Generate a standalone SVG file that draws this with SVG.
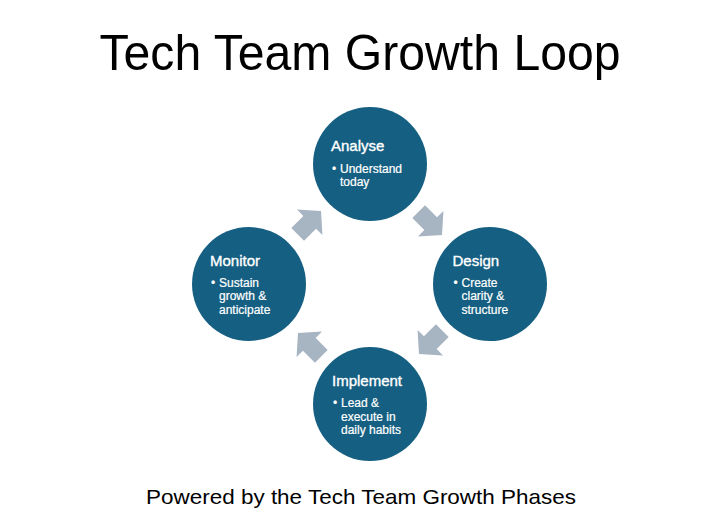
<svg xmlns="http://www.w3.org/2000/svg" width="720" height="528" viewBox="0 0 720 528">
  <defs>
    <style>
      .circle { fill: #155F82; }
      .arrow { fill: #A7B4C2; }
      .title { font-family: "Liberation Sans", Arial, sans-serif; font-size: 50px; fill: #000000; }
      .subtitle { font-family: "Liberation Sans", Arial, sans-serif; font-size: 21px; fill: #000000; }
      .nodeTitle { font-family: "Liberation Sans", Arial, sans-serif; font-size: 15px; fill: #FFFFFF; stroke: #FFFFFF; stroke-width: 0.35px; }
      .nodeText { font-family: "Liberation Sans", Arial, sans-serif; font-size: 12px; fill: #FFFFFF; stroke: #FFFFFF; stroke-width: 0.2px; }
    </style>
    <path id="arrowShape" d="M-16,-9 L1,-9 L1,-18 L17,0 L1,18 L1,9 L-16,9 Z"/>
  </defs>
  <rect width="720" height="528" fill="#FFFFFF"/>
  <text class="title" x="360" y="70" text-anchor="middle" textLength="521" lengthAdjust="spacingAndGlyphs">Tech Team Growth Loop</text>

  <g id="connectors">
    <use href="#arrowShape" class="arrow" transform="translate(430,223) rotate(45)"/>
    <use href="#arrowShape" class="arrow" transform="translate(431,342) rotate(135)"/>
    <use href="#arrowShape" class="arrow" transform="translate(310,345) rotate(225)"/>
    <use href="#arrowShape" class="arrow" transform="translate(309,223) rotate(-45)"/>
  </g>

  <g id="node-analyse">
    <circle class="circle" cx="370" cy="164" r="57"/>
    <text class="nodeTitle" x="331" y="151">Analyse</text>
    <text class="nodeText" x="332" y="172.5">•</text>
    <text class="nodeText" x="340" y="172.5">Understand</text>
    <text class="nodeText" x="340" y="185.5">today</text>
  </g>

  <g id="node-design">
    <circle class="circle" cx="490" cy="284" r="57"/>
    <text class="nodeTitle" x="452.5" y="266">Design</text>
    <text class="nodeText" x="453.5" y="286.5">•</text>
    <text class="nodeText" x="461.5" y="286.5">Create</text>
    <text class="nodeText" x="461.5" y="300">clarity &amp;</text>
    <text class="nodeText" x="461.5" y="313.5">structure</text>
  </g>

  <g id="node-implement">
    <circle class="circle" cx="370" cy="404" r="57"/>
    <text class="nodeTitle" x="332" y="386">Implement</text>
    <text class="nodeText" x="333" y="407">•</text>
    <text class="nodeText" x="341" y="407">Lead &amp;</text>
    <text class="nodeText" x="341" y="420.5">execute in</text>
    <text class="nodeText" x="341" y="434">daily habits</text>
  </g>

  <g id="node-monitor">
    <circle class="circle" cx="249" cy="284" r="57"/>
    <text class="nodeTitle" x="210" y="266">Monitor</text>
    <text class="nodeText" x="211" y="286.5">•</text>
    <text class="nodeText" x="219" y="286.5">Sustain</text>
    <text class="nodeText" x="219" y="300">growth &amp;</text>
    <text class="nodeText" x="219" y="313.5">anticipate</text>
  </g>

  <text class="subtitle" x="361" y="504" text-anchor="middle" textLength="430" lengthAdjust="spacingAndGlyphs">Powered by the Tech Team Growth Phases</text>
</svg>
